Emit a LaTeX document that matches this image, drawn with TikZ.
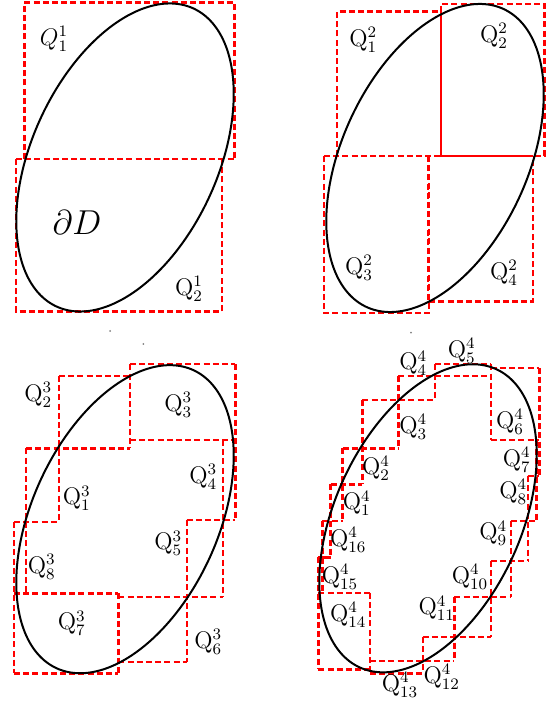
\documentclass[tikz,border=0pt]{standalone}
\usepackage{amsmath}
\tikzset{
  qbox/.style={draw=red, line width=1.2pt, dash pattern=on 3pt off 1.6pt},
  qsolid/.style={draw=red, line width=1.2pt},
  bnd/.style={draw=black, line width=1pt},
  qlab/.style={font=\large, inner sep=0pt},
}
\newcommand{\bdry}[2]{\draw[bnd] plot[domain=0:360,samples=241] ({#1+68.3*cos(\x)-84.6*sin(\x)},{#2-149.1*cos(\x)-38.7*sin(\x)}) -- cycle;}
\begin{document}
\begin{tikzpicture}[x=0.5pt,y=-0.5pt]
\useasboundingbox (0,0) rectangle (549,704);
% ---------- panel 1 ----------
\draw[qbox] (24.3,159) -- (24.3,2.7) -- (234.3,2.7) -- (234.3,159);
\draw[qbox] (16,159) -- (234.3,159);
\draw[qbox] (16,159) -- (16,311.7) -- (221.7,311.7) -- (221.7,159);
\bdry{125}{157.5}
\node[qlab] (p1q1) at (54,39) {$Q^{1}_{1}$};
\node[qlab] (p1q2) at (189,289) {$\mathrm{Q}^{1}_{2}$};
\node[font=\LARGE, inner sep=0pt] (dD) at (77,223) {$\partial D$};
% ---------- panel 2 ----------
\draw[qbox] (336.7,156) -- (336.7,11.7) -- (440.7,11.7);
\draw[qbox] (440.7,11.7) -- (440.7,4) -- (544.3,4) -- (544.3,156) -- (532.7,156);
\draw[qsolid] (440.7,11.7) -- (440.7,156) -- (532.7,156);
\draw[qbox] (324,156) -- (440.7,156);
\draw[qbox] (324,156) -- (324,313.3) -- (429,313.3) -- (429,156);
\draw[qbox] (427.7,156) -- (427.7,301.7) -- (532.7,301.7) -- (532.7,156);
\bdry{435}{158}
\node[qlab] (p2q1) at (363.3,40) {$\mathrm{Q}^{2}_{1}$};
\node[qlab] (p2q2) at (494,36) {$\mathrm{Q}^{2}_{2}$};
\node[qlab] (p2q3) at (359,268) {$\mathrm{Q}^{2}_{3}$};
\node[qlab] (p2q4) at (504,273) {$\mathrm{Q}^{2}_{4}$};
% ---------- panel 3 ----------
\draw[qbox]
  (59,376) -- (130,376)
  (130,364.3) -- (235.3,364.3)
  (130,364.3) -- (130,448.3)
  (26,448.3) -- (130,448.3)
  (59,376) -- (59,521.7)
  (130,440) -- (235.3,440)
  (235.3,364.3) -- (235.3,520)
  (222.7,440) -- (222.7,596.7)
  (186.7,520) -- (235.3,520)
  (186.7,520) -- (186.7,661.7)
  (118.3,596.7) -- (222.7,596.7)
  (118.3,661.7) -- (186.7,661.7)
  (118.3,593.3) -- (118.3,673.3)
  (14,593.3) -- (118.3,593.3)
  (14,673.3) -- (118.3,673.3)
  (14,521.7) -- (14,673.3)
  (14,521.7) -- (59,521.7)
  (26,448.3) -- (26,593.3);
\bdry{125}{519.2}
\node[qlab] (p3q2) at (38.3,395) {$\mathrm{Q}^{3}_{2}$};
\node[qlab] (p3q3) at (178.3,405) {$\mathrm{Q}^{3}_{3}$};
\node[qlab] (p3q1) at (76.7,498.3) {$\mathrm{Q}^{3}_{1}$};
\node[qlab] (p3q4) at (203.3,476.7) {$\mathrm{Q}^{3}_{4}$};
\node[qlab] (p3q5) at (168.3,543.3) {$\mathrm{Q}^{3}_{5}$};
\node[qlab] (p3q8) at (41.7,566.7) {$\mathrm{Q}^{3}_{8}$};
\node[qlab] (p3q7) at (71.7,623.3) {$\mathrm{Q}^{3}_{7}$};
\node[qlab] (p3q6) at (208.3,641.7) {$\mathrm{Q}^{3}_{6}$};
% ---------- panel 4 ----------
\draw[qbox]
  (322.3,520.7) -- (322.3,592.7)
  (330.5,484.3) -- (330.5,557.3)
  (342.5,448.3) -- (342.5,520.7)
  (362.3,400) -- (362.3,484.3)
  (398.3,376) -- (398.3,448.3)
  (435,364.3) -- (435,400)
  (490.7,364.3) -- (490.7,440)
  (539.3,368) -- (539.3,476)
  (536.5,440) -- (536.5,520.7)
  (527.7,476) -- (527.7,561)
  (510.7,520.7) -- (510.7,596.7)
  (490.7,561) -- (490.7,636.7)
  (454.3,596.7) -- (454.3,661)
  (422.7,636.7) -- (422.7,673.3)
  (370,592.7) -- (370,673.3)
  (318.3,557.3) -- (318.3,669.3)
  (322.3,520.7) -- (342.5,520.7)
  (330.5,484.3) -- (362.3,484.3)
  (342.5,448.3) -- (398.3,448.3)
  (362.3,400) -- (435,400)
  (398.3,376) -- (490.7,376)
  (435,364.3) -- (490.7,364.3)
  (490.7,368) -- (539.3,368)
  (490.7,440) -- (539.3,440)
  (527.7,476) -- (539.3,476)
  (510.7,520.7) -- (536.5,520.7)
  (490.7,561) -- (527.7,561)
  (454.3,596.7) -- (510.7,596.7)
  (422.7,636.7) -- (490.7,636.7)
  (370,661) -- (454.3,661)
  (370,673.3) -- (422.7,673.3)
  (318.3,669.3) -- (370,669.3)
  (318.3,592.7) -- (370,592.7);
\draw[qsolid] (318.3,557.3) -- (330.5,557.3);
\bdry{428}{518.3}
\node[qlab] (p4q5) at (461.7,350.7) {$\mathrm{Q}^{4}_{5}$};
\node[qlab] (p4q4) at (413.3,363.3) {$\mathrm{Q}^{4}_{4}$};
\node[qlab] (p4q3) at (413.3,426.7) {$\mathrm{Q}^{4}_{3}$};
\node[qlab] (p4q6) at (510,421.7) {$\mathrm{Q}^{4}_{6}$};
\node[qlab] (p4q2) at (376,468.3) {$\mathrm{Q}^{4}_{2}$};
\node[qlab] (p4q7) at (516.7,460) {$\mathrm{Q}^{4}_{7}$};
\node[qlab] (p4q8) at (513.3,491.7) {$\mathrm{Q}^{4}_{8}$};
\node[qlab] (p4q1) at (356.7,503.3) {$\mathrm{Q}^{4}_{1}$};
\node[qlab] (p4q16) at (348.3,540) {$\mathrm{Q}^{4}_{16}$};
\node[qlab] (p4q9) at (493.3,533.3) {$\mathrm{Q}^{4}_{9}$};
\node[qlab] (p4q15) at (340,576.7) {$\mathrm{Q}^{4}_{15}$};
\node[qlab] (p4q10) at (470,576.7) {$\mathrm{Q}^{4}_{10}$};
\node[qlab] (p4q11) at (436.7,608.3) {$\mathrm{Q}^{4}_{11}$};
\node[qlab] (p4q14) at (348.3,615) {$\mathrm{Q}^{4}_{14}$};
\node[qlab] (p4q12) at (441.7,676.7) {$\mathrm{Q}^{4}_{12}$};
\node[qlab] (p4q13) at (400,685) {$\mathrm{Q}^{4}_{13}$};
% ---------- stray dots ----------
\fill[gray] (110,331) circle[radius=0.5pt];
\fill[gray] (143.3,344) circle[radius=0.5pt];
\fill[gray] (411,332.7) circle[radius=0.5pt];
\end{tikzpicture}
\end{document}
